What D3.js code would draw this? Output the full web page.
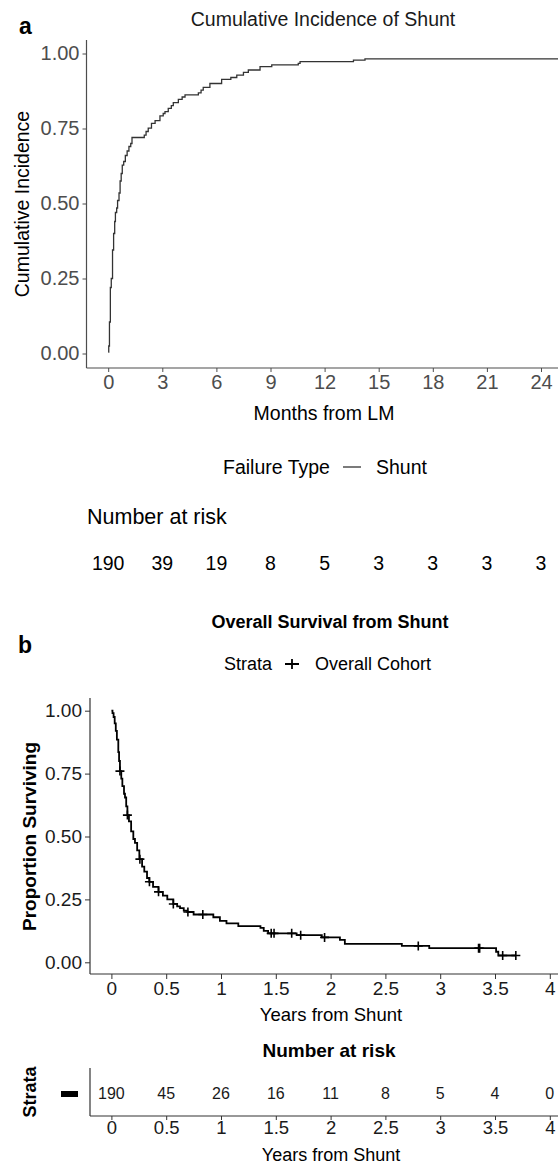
<!DOCTYPE html>
<meta charset="utf-8">
<script src="https://d3js.org/d3.v7.min.js"></script>
<body>
    <div id="viz"></div>
</body>
<style>
    body { margin: 0; background: #fff; }
    svg { font-family: "Liberation Sans", Arial, sans-serif; display: block; }
</style>
<script>
    // ---- panel a : cumulative incidence of shunt (months)
    let ciTime  = [0, 0.03, 0.07, 0.12, 0.17, 0.24, 0.3, 0.36, 0.4, 0.47, 0.52, 0.6, 0.66, 0.72, 0.78, 0.86, 0.95, 1.05, 1.15, 1.25,
                   1.32, 2.0, 2.1, 2.22, 2.4, 2.6, 2.87, 3.05, 3.15, 3.33, 3.5, 3.61, 3.89, 4.1, 4.26, 5.0, 5.15, 5.27, 5.64, 6.29,
                   6.8, 7.13, 7.5, 7.77, 8.42, 9.07, 10.54, 10.64, 13.6, 14.24, 25];
    let ciValue = [0.005, 0.025, 0.105, 0.22, 0.25, 0.345, 0.4, 0.44, 0.47, 0.485, 0.51, 0.535, 0.575, 0.6, 0.628, 0.64, 0.66, 0.675, 0.69, 0.7,
                   0.72, 0.728, 0.74, 0.751, 0.767, 0.776, 0.792, 0.8, 0.806, 0.817, 0.826, 0.836, 0.847, 0.855, 0.862, 0.869, 0.878, 0.887, 0.9, 0.914,
                   0.92, 0.928, 0.937, 0.945, 0.956, 0.962, 0.967, 0.973, 0.978, 0.982, 0.982];
    let monthTicks = [0, 3, 6, 9, 12, 15, 18, 21, 24];
    let riskA = [190, 39, 19, 8, 5, 3, 3, 3, 3];
    let probTicks = [0, 0.25, 0.5, 0.75, 1];

    // ---- panel b : overall survival from shunt (years)
    let osTime  = [0, 0.01, 0.02, 0.03, 0.04, 0.05, 0.063, 0.07, 0.078, 0.09, 0.1, 0.115, 0.124, 0.135, 0.146, 0.16, 0.18, 0.2, 0.215, 0.235,
                   0.255, 0.28, 0.3, 0.325, 0.346, 0.38, 0.43, 0.47, 0.51, 0.565, 0.6, 0.626, 0.66, 0.693, 0.75, 0.93, 0.99, 1.05, 1.158, 1.36,
                   1.39, 1.43, 1.69, 1.92, 2.085, 2.13, 2.65, 2.9, 3.51, 3.53, 3.69];
    let osValue = [1.0, 0.99, 0.975, 0.95, 0.92, 0.885, 0.835, 0.8, 0.76, 0.73, 0.7, 0.67, 0.655, 0.62, 0.585, 0.56, 0.52, 0.49, 0.475, 0.445,
                   0.41, 0.38, 0.36, 0.335, 0.32, 0.3, 0.28, 0.265, 0.25, 0.232, 0.222, 0.215, 0.205, 0.2, 0.19, 0.179, 0.165, 0.155, 0.144, 0.137,
                   0.125, 0.115, 0.108, 0.099, 0.089, 0.073, 0.065, 0.056, 0.042, 0.027, 0.027];
    let censorTime = [0.078, 0.146, 0.26, 0.347, 0.43, 0.565, 0.698, 0.834, 1.458, 1.484, 1.645, 1.727, 1.945, 2.8, 3.35, 3.36, 3.57, 3.69];
    let yearTicks = [0, 0.5, 1, 1.5, 2, 2.5, 3, 3.5, 4];
    let riskB = [190, 45, 26, 16, 11, 8, 5, 4, 0];

    const W = 558, H = 1169;
    let svg = d3.select("#viz").append("svg")
        .attr("width", W)
        .attr("height", H);

    const grey = "#4d4d4d";
    const fam = "Liberation Sans, Arial, sans-serif";

    // ================= panel a =================
    let xa = d3.scaleLinear().domain([0, 24]).range([108.2, 541]);
    let ya = d3.scaleLinear().domain([0, 1]).range([353.5, 53.5]);
    let axA = {left: 86.5, top: 40, bottom: 368};

    svg.append("text").attr("x", 19).attr("y", 34)
        .text("a").style("font-size", "23px").style("font-weight", "bold");

    svg.append("text").attr("x", 323).attr("y", 26)
        .attr("text-anchor", "middle")
        .text("Cumulative Incidence of Shunt")
        .style("font-size", "19.5px").style("fill", "#1a1a1a");

    let yAxisA = svg.append("g")
        .attr("transform", `translate(${axA.left},0)`)
        .call(d3.axisLeft(ya).tickValues(probTicks).tickFormat(d3.format(".2f")).tickSize(4).tickPadding(3));
    yAxisA.select(".domain").remove();
    yAxisA.selectAll(".tick line").attr("stroke", grey);
    yAxisA.selectAll(".tick text").style("font-size", "20px").style("fill", grey).style("font-family", fam);

    let xAxisA = svg.append("g")
        .attr("transform", `translate(0,${axA.bottom})`)
        .call(d3.axisBottom(xa).tickValues(monthTicks).tickSize(4).tickPadding(3));
    xAxisA.select(".domain").remove();
    xAxisA.selectAll(".tick line").attr("stroke", grey);
    xAxisA.selectAll(".tick text").style("font-size", "20px").style("fill", grey).style("font-family", fam);

    svg.append("line").attr("x1", axA.left).attr("x2", axA.left)
        .attr("y1", axA.top).attr("y2", axA.bottom)
        .attr("stroke", grey).attr("stroke-width", 1.2);
    svg.append("line").attr("x1", axA.left).attr("x2", W)
        .attr("y1", axA.bottom).attr("y2", axA.bottom)
        .attr("stroke", grey).attr("stroke-width", 1.2);

    let ciData = ciTime.map((t, i) => [t, ciValue[i]]);
    svg.append("clipPath").attr("id", "clipA")
        .append("rect").attr("x", axA.left).attr("y", axA.top).attr("width", W - axA.left).attr("height", axA.bottom - axA.top);
    svg.append("path")
        .datum(ciData)
        .attr("clip-path", "url(#clipA)")
        .attr("fill", "none")
        .attr("stroke", "#333")
        .attr("stroke-width", 1.3)
        .attr("d", d3.line().curve(d3.curveStepAfter).x(d => xa(d[0])).y(d => ya(d[1])));

    svg.append("text")
        .attr("transform", `translate(29,${(axA.top + axA.bottom) / 2}) rotate(-90)`)
        .attr("text-anchor", "middle")
        .text("Cumulative Incidence")
        .style("font-size", "19.5px");

    svg.append("text").attr("x", 324).attr("y", 420)
        .attr("text-anchor", "middle")
        .text("Months from LM").style("font-size", "19.5px");

    // legend
    svg.append("text").attr("x", 223).attr("y", 474)
        .text("Failure Type").style("font-size", "19.5px");
    svg.append("line").attr("x1", 343).attr("x2", 361).attr("y1", 467).attr("y2", 467)
        .attr("stroke", "#333").attr("stroke-width", 1.3);
    svg.append("text").attr("x", 376).attr("y", 474)
        .text("Shunt").style("font-size", "19.5px");

    svg.append("text").attr("x", 87).attr("y", 524)
        .text("Number at risk").style("font-size", "21.5px");

    svg.append("g").selectAll("text")
        .data(riskA)
        .enter()
        .append("text")
            .attr("x", (d, i) => xa(monthTicks[i]))
            .attr("y", 570)
            .attr("text-anchor", "middle")
            .text(d => d)
            .style("font-size", "19.5px");

    // ================= panel b =================
    let xb = d3.scaleLinear().domain([0, 4]).range([111.4, 549.8]);
    let yb = d3.scaleLinear().domain([0, 1]).range([962.3, 710.7]);
    let axB = {left: 90, top: 698, bottom: 974};

    svg.append("text").attr("x", 18).attr("y", 653)
        .text("b").style("font-size", "23px").style("font-weight", "bold");

    svg.append("text").attr("x", 330).attr("y", 628)
        .attr("text-anchor", "middle")
        .text("Overall Survival from Shunt")
        .style("font-size", "18px").style("font-weight", "bold");

    // legend b
    svg.append("text").attr("x", 224).attr("y", 670)
        .text("Strata").style("font-size", "18px");
    svg.append("path")
        .attr("transform", "translate(292,664)")
        .attr("d", "M-7,0H7M0,-5V5")
        .attr("stroke", "#000").attr("stroke-width", 1.8);
    svg.append("text").attr("x", 315).attr("y", 670)
        .text("Overall Cohort").style("font-size", "18px");

    let yAxisB = svg.append("g")
        .attr("transform", `translate(${axB.left},0)`)
        .call(d3.axisLeft(yb).tickValues(probTicks).tickFormat(d3.format(".2f")).tickSize(5).tickPadding(3));
    yAxisB.select(".domain").remove();
    yAxisB.selectAll(".tick line").attr("stroke", "#333");
    yAxisB.selectAll(".tick text").style("font-size", "19px").style("fill", "#1a1a1a").style("font-family", fam);

    let xAxisB = svg.append("g")
        .attr("transform", `translate(0,${axB.bottom})`)
        .call(d3.axisBottom(xb).tickValues(yearTicks).tickFormat(d3.format("")).tickSize(5).tickPadding(3));
    xAxisB.select(".domain").remove();
    xAxisB.selectAll(".tick line").attr("stroke", "#333");
    xAxisB.selectAll(".tick text").style("font-size", "19px").style("fill", "#1a1a1a").style("font-family", fam);

    svg.append("line").attr("x1", axB.left).attr("x2", axB.left)
        .attr("y1", axB.top).attr("y2", axB.bottom)
        .attr("stroke", "#333").attr("stroke-width", 1.2);
    svg.append("line").attr("x1", axB.left).attr("x2", W)
        .attr("y1", axB.bottom).attr("y2", axB.bottom)
        .attr("stroke", "#333").attr("stroke-width", 1.2);

    let osData = osTime.map((t, i) => [t, osValue[i]]);
    svg.append("path")
        .datum(osData)
        .attr("fill", "none")
        .attr("stroke", "#000")
        .attr("stroke-width", 1.8)
        .attr("d", d3.line().curve(d3.curveStepAfter).x(d => xb(d[0])).y(d => yb(d[1])));

    // censor marks, height
    let bis = d3.bisector(d => d).right;
    let survAt = t => osValue[Math.max(0, bis(osTime, t) - 1)];
    svg.append("g").selectAll("path")
        .data(censorTime)
        .enter()
        .append("path")
            .attr("transform", d => `translate(${xb(d)},${yb(survAt(d))})`)
            .attr("d", "M-4.5,0H4.5M0,-4.5V4.5")
            .attr("stroke", "#000")
            .attr("stroke-width", 1.6);

    svg.append("text")
        .attr("transform", `translate(35.5,${(yb(0) + yb(1)) / 2}) rotate(-90)`)
        .attr("text-anchor", "middle")
        .text("Proportion Surviving")
        .style("font-size", "19px").style("font-weight", "bold");

    svg.append("text").attr("x", 331).attr("y", 1021)
        .attr("text-anchor", "middle")
        .text("Years from Shunt").style("font-size", "18.5px");

    // risk table
    svg.append("text").attr("x", 329).attr("y", 1057)
        .attr("text-anchor", "middle")
        .text("Number at risk").style("font-size", "19px").style("font-weight", "bold");

    let tb = {left: 90, top: 1068, bottom: 1116};
    svg.append("line").attr("x1", tb.left).attr("x2", tb.left)
        .attr("y1", tb.top).attr("y2", tb.bottom)
        .attr("stroke", "#333").attr("stroke-width", 1.2);
    svg.append("line").attr("x1", tb.left).attr("x2", W)
        .attr("y1", tb.bottom).attr("y2", tb.bottom)
        .attr("stroke", "#333").attr("stroke-width", 1.2);

    let xAxisT = svg.append("g")
        .attr("transform", `translate(0,${tb.bottom})`)
        .call(d3.axisBottom(xb).tickValues(yearTicks).tickFormat(d3.format("")).tickSize(4).tickPadding(1));
    xAxisT.select(".domain").remove();
    xAxisT.selectAll(".tick line").attr("stroke", "#333");
    xAxisT.selectAll(".tick text").style("font-size", "18.5px").style("fill", "#1a1a1a").style("font-family", fam);

    svg.append("g").selectAll("text")
        .data(riskB)
        .enter()
        .append("text")
            .attr("x", (d, i) => xb(yearTicks[i]))
            .attr("y", 1099)
            .attr("text-anchor", "middle")
            .text(d => d)
            .style("font-size", "16px").style("fill", "#1a1a1a");

    // strata key
    svg.append("rect").attr("x", 61).attr("y", 1091).attr("width", 17).attr("height", 6).attr("fill", "#000");
    svg.append("text")
        .attr("transform", `translate(35.5,${(tb.top + tb.bottom) / 2}) rotate(-90)`)
        .attr("text-anchor", "middle")
        .text("Strata")
        .style("font-size", "18px").style("font-weight", "bold");

    svg.append("text").attr("x", 331).attr("y", 1161)
        .attr("text-anchor", "middle")
        .text("Years from Shunt").style("font-size", "18px");
</script>
